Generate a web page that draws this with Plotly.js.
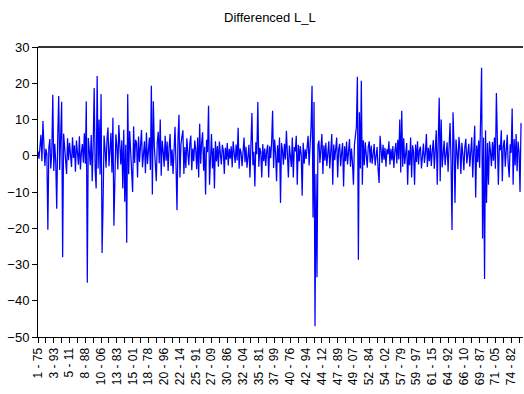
<!DOCTYPE html>
<html>
<head>
<meta charset="utf-8">
<script src="https://cdn.plot.ly/plotly-3.0.1.min.js"></script>
<style>html,body{margin:0;padding:0;background:#fff;}#chart{width:524px;height:394px;}</style>
</head>
<body>
<div id="chart"></div>
<script>
// Tick labels (every other tick carries a label)
const tickLabels = ["1 - 75","3 - 93","5 - 11","8 - 88","10 - 06","13 - 83","15 - 01","18 - 78","20 - 96","22 - 14","25 - 91","27 - 09","30 - 86","32 - 04","35 - 81","37 - 99","40 - 76","42 - 94","44 - 12","47 - 89","49 - 07","52 - 84","54 - 02","57 - 79","59 - 97","61 - 15","64 - 92","66 - 10","69 - 87","71 - 05","74 - 82"];
const obsPerLabel = 16;

// Differenced L_L values
const diffLL = [
1.2,-0.8,2.5,5.8,-1.5,9.6,3.1,-2.8,1.9,0.5,
-20.4,2.2,4.6,-3.5,1.0,16.8,-4.2,3.3,-1.8,-14.6,
5.2,16.5,-3.9,10.0,14.9,-28.0,6.1,2.4,-2.7,-5.0,
4.8,-1.2,3.6,0.4,-3.1,5.1,-0.6,2.9,-4.4,4.2,
1.3,-2.5,5.4,-3.8,0.9,3.2,-1.9,6.2,-2.2,15.0,
-35.0,4.9,1.6,-2.6,5.7,-7.0,3.4,18.7,-4.1,-9.0,
22.0,-3.5,10.0,-5.2,17.0,-26.8,-13.5,5.6,2.0,-3.3,
4.5,7.8,-2.9,3.7,6.3,-4.6,10.5,-19.3,-7.0,5.9,
2.6,-3.8,8.5,1.1,-2.4,4.3,-9.0,7.2,-12.7,3.0,
-24.0,17.0,-5.1,6.8,2.2,-3.6,-10.0,8.1,-2.0,4.4,
3.5,-6.0,5.3,-1.7,2.8,7.1,-3.2,0.6,4.0,-4.8,
6.4,-2.3,1.5,5.0,-3.9,19.3,-10.7,15.0,2.7,-4.5,
-7.0,3.8,6.6,-2.1,10.0,-5.5,4.1,1.2,-3.0,5.5,
-1.4,3.9,-4.2,2.3,6.0,-2.8,1.7,-5.0,4.6,8.0,
-2.5,-15.0,4.7,11.3,-6.0,3.1,5.2,7.0,-5.0,2.4,
-3.4,4.8,0.8,-2.6,3.3,5.6,-4.0,2.0,-1.5,4.2,
1.8,-3.7,5.0,-6.0,8.8,-2.2,3.6,6.5,-4.1,2.5,
-10.7,4.4,1.0,13.8,-8.0,3.2,6.0,-3.5,2.1,-9.0,
4.0,-1.6,2.7,-3.0,3.9,0.5,-2.4,3.0,1.4,-5.0,
2.2,-1.1,3.5,-2.7,1.9,-0.8,2.6,-3.2,4.0,0.7,
-2.0,3.1,-1.3,7.7,-3.6,2.0,0.9,-2.9,3.4,5.0,
-1.8,2.5,-3.3,1.6,3.0,-6.0,2.3,11.8,-2.6,1.1,
-8.5,3.7,0.4,14.8,-3.0,2.2,1.0,-6.0,3.2,-1.5,
2.0,-2.8,1.3,3.0,-6.0,2.6,-0.7,3.8,12.4,-3.4,
4.5,0.8,-7.0,2.9,-1.9,5.0,-13.0,3.5,1.5,-2.5,
3.3,-1.0,6.9,-2.3,-6.0,2.8,0.6,-3.1,5.0,-6.0,
2.4,1.2,5.5,-8.0,3.0,-1.6,2.7,0.3,-11.0,3.6,
-2.2,1.8,-0.9,3.4,5.5,-2.7,2.1,8.0,19.3,-17.0,
14.8,-47.0,-5.0,-33.5,3.0,4.2,-2.0,1.5,6.0,-5.0,
2.9,-1.4,3.6,-2.8,1.0,4.0,-3.5,2.2,6.0,-8.0,
3.1,-1.2,2.4,5.0,-6.0,1.7,3.3,-2.9,0.8,3.5,
-8.5,2.6,-1.5,3.9,-2.4,1.4,4.6,-3.0,2.0,-1.8,
-8.0,3.0,5.2,8.0,21.8,-28.7,12.0,-3.5,20.7,-8.0,
4.3,-2.6,3.7,1.0,-3.3,2.5,4.0,-1.9,2.8,-2.2,
1.6,3.2,-2.7,0.9,2.4,-3.8,-7.5,5.5,1.3,-2.0,
3.0,-1.1,2.2,-3.0,1.8,0.4,4.0,-2.5,1.9,-1.3,
2.7,-3.4,1.2,3.6,-2.1,4.4,-1.0,10.0,-4.6,12.4,
-3.0,4.8,-2.3,2.0,3.5,-8.0,1.5,-2.6,5.0,-6.0,
2.9,1.0,-8.0,3.1,-1.7,4.0,-2.4,1.6,2.5,-3.5,
1.2,3.4,-2.0,0.7,6.0,-3.1,2.2,-1.5,3.0,-2.8,
1.4,4.3,-3.6,2.0,7.0,-8.0,5.4,16.0,-7.0,10.0,
-3.2,2.5,4.1,-2.6,1.3,3.7,-4.4,2.8,9.0,-1.6,
-20.5,12.0,3.0,-13.0,4.5,1.1,-3.7,5.2,2.0,-5.0,
3.6,0.5,-4.0,2.3,4.7,-2.1,1.0,3.3,-3.0,2.6,
5.1,-6.0,3.4,8.3,-11.5,2.8,-1.8,4.2,-3.3,7.0,
24.3,-22.8,5.0,-34.0,7.0,-13.0,3.5,-8.0,4.0,1.2,
-2.9,3.8,-1.4,5.0,-3.6,17.3,2.0,-8.0,3.0,1.5,
7.0,-7.0,2.6,4.4,-3.0,1.7,5.8,-2.4,-6.0,3.2,
0.8,13.0,-8.0,4.6,-2.7,6.0,-4.3,3.9,1.0,-10.0,
9.0
];

const xIdx = diffLL.map((_, i) => i);

// ticks: one every half label interval, label on every other
const tickVals = [], tickText = [];
for (let k = 0; k <= tickLabels.length * 2 - 1; k++) {
  tickVals.push(k * obsPerLabel / 2);
  tickText.push(k % 2 === 0 ? tickLabels[k / 2] : "");
}

const trace = {
  x: xIdx, y: diffLL, type: 'scatter', mode: 'lines',
  line: {color: '#0000FF', width: 1.25}, hoverinfo: 'skip'
};

const font = {family: 'Arial, "Liberation Sans", sans-serif', color: '#000'};

const layout = {
  width: 524, height: 394,
  margin: {l: 38, r: 1, t: 47, b: 57, pad: 0},
  paper_bgcolor: '#fff', plot_bgcolor: '#fff',
  showlegend: false,
  font: Object.assign({size: 12}, font),
  title: {text: 'Differenced L_L', x: 0.515, xanchor: 'center', y: 0.955, yanchor: 'middle',
          font: Object.assign({size: 13}, font)},
  xaxis: {
    range: [0, 492], showgrid: false, zeroline: false,
    showline: true, linecolor: '#000', linewidth: 1,
    tickmode: 'array', tickvals: tickVals, ticktext: tickText,
    ticks: 'outside', ticklen: 5, tickcolor: '#000', tickwidth: 1,
    tickangle: -90, tickfont: Object.assign({size: 12}, font)
  },
  yaxis: {
    range: [-50, 30], dtick: 10, tick0: 0, showgrid: false, zeroline: false,
    showline: true, linecolor: '#000', linewidth: 1,
    ticks: 'outside', ticklen: 5, tickcolor: '#000', tickwidth: 1,
    tickfont: Object.assign({size: 13}, font)
  },
  shapes: [{type: 'line', xref: 'paper', yref: 'paper', x0: 0, x1: 1, y0: 1, y1: 1,
            line: {color: '#333', width: 2}}]
};

Plotly.newPlot('chart', [trace], layout, {staticPlot: true, displayModeBar: false});
</script>
</body>
</html>
